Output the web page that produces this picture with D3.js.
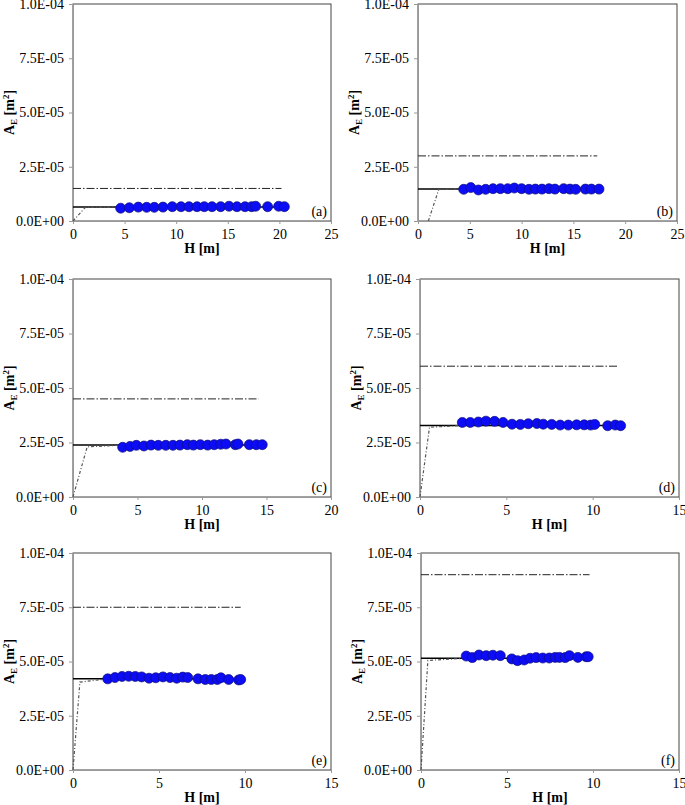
<!DOCTYPE html>
<html>
<head>
<meta charset="utf-8">
<script src="https://cdn.jsdelivr.net/npm/d3@7"></script>
<style>
  body { margin: 0; background: #fff; }
  svg text { font-family: "Liberation Serif", "DejaVu Serif", "Times New Roman", serif; }
</style>
</head>
<body>
<div id="plot"></div>
<script>
// measured points, one pair of arrays per panel
const hA = [4.62, 5.46, 6.33, 7.14, 7.88, 8.72, 9.62, 10.47, 11.24, 12.02, 12.72, 13.47, 14.31, 15.12, 15.89, 16.67, 17.31, 17.70, 18.86, 19.93, 20.48];
const aeA = [5.9e-6, 6.1e-6, 6.4e-6, 6.3e-6, 6.3e-6, 6.4e-6, 6.6e-6, 6.6e-6, 6.6e-6, 6.6e-6, 6.6e-6, 6.6e-6, 6.6e-6, 6.8e-6, 6.6e-6, 6.6e-6, 6.6e-6, 6.8e-6, 6.6e-6, 6.8e-6, 6.6e-6];

const hB = [4.41, 5.09, 5.83, 6.53, 7.24, 7.95, 8.66, 9.30, 10.0, 10.71, 11.33, 11.97, 12.64, 13.22, 14.06, 14.67, 15.22, 16.16, 16.74, 17.47];
const aeB = [1.46e-5, 1.54e-5, 1.43e-5, 1.46e-5, 1.49e-5, 1.49e-5, 1.49e-5, 1.52e-5, 1.49e-5, 1.46e-5, 1.47e-5, 1.47e-5, 1.49e-5, 1.47e-5, 1.49e-5, 1.47e-5, 1.46e-5, 1.47e-5, 1.47e-5, 1.47e-5];

const hC = [3.85, 4.42, 4.91, 5.50, 6.05, 6.61, 7.19, 7.75, 8.29, 8.86, 9.33, 9.87, 10.44, 10.95, 11.45, 11.86, 12.58, 12.79, 13.67, 14.21, 14.67];
const aeC = [2.28e-5, 2.32e-5, 2.37e-5, 2.34e-5, 2.38e-5, 2.37e-5, 2.37e-5, 2.37e-5, 2.38e-5, 2.40e-5, 2.38e-5, 2.40e-5, 2.38e-5, 2.40e-5, 2.42e-5, 2.43e-5, 2.40e-5, 2.43e-5, 2.40e-5, 2.40e-5, 2.40e-5];

const hD = [2.45, 2.91, 3.38, 3.82, 4.32, 4.81, 5.33, 5.81, 6.27, 6.77, 7.14, 7.63, 8.12, 8.59, 9.07, 9.51, 9.88, 10.12, 10.87, 11.31, 11.62];
const aeD = [3.42e-5, 3.42e-5, 3.44e-5, 3.48e-5, 3.47e-5, 3.42e-5, 3.34e-5, 3.33e-5, 3.36e-5, 3.37e-5, 3.34e-5, 3.33e-5, 3.30e-5, 3.30e-5, 3.31e-5, 3.31e-5, 3.30e-5, 3.33e-5, 3.27e-5, 3.30e-5, 3.27e-5];

const hE = [2.02, 2.44, 2.85, 3.24, 3.62, 3.99, 4.42, 4.81, 5.23, 5.64, 6.03, 6.38, 6.67, 7.27, 7.69, 8.04, 8.39, 8.60, 9.05, 9.63, 9.75];
const aeE = [4.20e-5, 4.26e-5, 4.31e-5, 4.32e-5, 4.31e-5, 4.29e-5, 4.23e-5, 4.25e-5, 4.29e-5, 4.26e-5, 4.23e-5, 4.28e-5, 4.26e-5, 4.20e-5, 4.17e-5, 4.17e-5, 4.17e-5, 4.25e-5, 4.17e-5, 4.15e-5, 4.17e-5];

const hF = [2.63, 2.98, 3.37, 3.79, 4.18, 4.61, 5.28, 5.61, 6.00, 6.34, 6.69, 7.08, 7.46, 7.80, 8.05, 8.38, 8.63, 9.12, 9.60, 9.72];
const aeF = [5.25e-5, 5.18e-5, 5.30e-5, 5.27e-5, 5.29e-5, 5.27e-5, 5.12e-5, 5.04e-5, 5.07e-5, 5.15e-5, 5.18e-5, 5.16e-5, 5.16e-5, 5.19e-5, 5.19e-5, 5.18e-5, 5.27e-5, 5.19e-5, 5.22e-5, 5.22e-5];

// reference lines per panel
const letters = ["a", "b", "c", "d", "e", "f"];
const xMax = [25, 25, 20, 15, 15, 15];
const level = [6.5e-6, 1.48e-5, 2.38e-5, 3.28e-5, 4.2e-5, 5.15e-5];      // solid line
const limit = [1.5e-5, 3.0e-5, 4.5e-5, 6.0e-5, 7.5e-5, 9.0e-5];          // dash-dot line
const limitEnd = [20.2, 17.3, 14.4, 11.5, 9.75, 9.8];
const rampStart = [0, 1.0, 0, 0, 0, 0];
const kneeH = [1.2, 2.0, 1.1, 0.55, 0.4, 0.4];
const kneeAe = [6.3e-6, 1.45e-5, 2.3e-5, 3.2e-5, 4.05e-5, 5.05e-5];
const yTicks = [0, 2.5e-5, 5.0e-5, 7.5e-5, 1.0e-4];

const hs = [hA, hB, hC, hD, hE, hF];
const aes = [aeA, aeB, aeC, aeD, aeE, aeF];

// plot boxes in page pixels
const boxes = [
  {l: 73, r: 331, t: 4, b: 221},
  {l: 418, r: 677, t: 4, b: 221},
  {l: 73, r: 331, t: 279, b: 497},
  {l: 420, r: 679, t: 279, b: 497},
  {l: 73, r: 331, t: 553, b: 770},
  {l: 421, r: 679, t: 553, b: 770}
];

const w = 685, h = 805;

const svg = d3.select("div#plot")
  .append("svg")
    .attr("width", w)
    .attr("height", h)
    .attr("font-family", "'Liberation Serif', serif");

svg.append("rect").attr("width", w).attr("height", h).attr("fill", "#fff");

// 2.5E-05 style labels
function sci(v) {
  if (Math.abs(v) < 1e-12) return "0.0E+00";
  const e = Math.floor(Math.log10(v) + 1e-9);
  const m = v / Math.pow(10, e);
  return m.toFixed(1) + "E" + (e < 0 ? "-" : "+") + String(Math.abs(e)).padStart(2, "0");
}

boxes.forEach((bx, i) => {
  const g = svg.append("g").attr("id", "panel-" + letters[i]);

  const xScale = d3.scaleLinear().domain([0, xMax[i]]).range([bx.l, bx.r]);
  const yScale = d3.scaleLinear().domain([0, 1e-4]).range([bx.b, bx.t]);

  // frame
  g.append("rect")
    .attr("x", bx.l).attr("y", bx.t)
    .attr("width", bx.r - bx.l).attr("height", bx.b - bx.t)
    .attr("fill", "none")
    .attr("stroke", "#444")
    .attr("stroke-width", 1);

  // x-axis
  const xAxis = d3.axisBottom(xScale)
    .tickValues(d3.range(0, xMax[i] + 0.1, 5))
    .tickSize(3)
    .tickPadding(5)
    .tickFormat(d3.format("d"));
  const gx = g.append("g")
    .attr("transform", `translate(0, ${bx.b})`)
    .call(xAxis);

  // y-axis
  const yAxis = d3.axisLeft(yScale)
    .tickValues(yTicks)
    .tickSize(4)
    .tickPadding(5)
    .tickFormat(sci);
  const gy = g.append("g")
    .attr("transform", `translate(${bx.l}, 0)`)
    .call(yAxis);

  [gx, gy].forEach(a => {
    a.attr("font-family", null);
    a.select(".domain").attr("stroke", "#999");
    a.selectAll(".tick line").attr("stroke", "#999");
    a.selectAll(".tick text")
      .attr("fill", "#000")
      .style("font-family", "'Liberation Serif', serif")
      .style("font-size", "14px");
  });

  // x-axis label
  g.append("text")
    .attr("x", (bx.l + bx.r) / 2)
    .attr("y", bx.b + 32)
    .attr("text-anchor", "middle")
    .style("font-size", "14px")
    .style("font-weight", "bold")
    .text("H [m]");

  // y-axis label
  const yl = g.append("text")
    .attr("transform", `translate(${bx.l - 59}, ${(bx.t + bx.b) / 2}) rotate(-90)`)
    .attr("text-anchor", "middle")
    .style("font-size", "14px")
    .style("font-weight", "bold");
  yl.append("tspan").text("A");
  yl.append("tspan").attr("dy", 3).style("font-size", "9px").text("E");
  yl.append("tspan").attr("dy", -3).text(" [m");
  yl.append("tspan").attr("dy", -5).style("font-size", "9px").text("2");
  yl.append("tspan").attr("dy", 5).text("]");

  const line = d3.line().x(d => xScale(d[0])).y(d => yScale(d[1]));
  const hh = hs[i], aa = aes[i];

  // dash-dot upper line
  g.append("path")
    .attr("d", line([[0, limit[i]], [limitEnd[i], limit[i]]]))
    .attr("fill", "none")
    .attr("stroke", "#222")
    .attr("stroke-width", 1)
    .attr("stroke-dasharray", "8,2,1.5,2");

  // solid level line
  g.append("path")
    .attr("d", line([[0, level[i]], [hh[hh.length - 1], level[i]]]))
    .attr("fill", "none")
    .attr("stroke", "#000")
    .attr("stroke-width", 1.5);

  // ramp
  g.append("path")
    .attr("d", line([[rampStart[i], 0], [kneeH[i], kneeAe[i]], [hh[0], level[i]]]))
    .attr("fill", "none")
    .attr("stroke", "#555")
    .attr("stroke-width", 1.2)
    .attr("stroke-dasharray", "3,2,1,2");

  // points
  g.selectAll("circle")
    .data(hh.map((v, k) => [v, aa[k]]))
    .enter()
    .append("circle")
      .attr("cx", d => xScale(d[0]))
      .attr("cy", d => yScale(d[1]))
      .attr("r", 5)
      .attr("fill", "#0c0cf5")
      .attr("stroke", "#10107a")
      .attr("stroke-width", 0.7);

  // panel letter
  g.append("text")
    .attr("x", bx.r - 4)
    .attr("y", bx.b - 5)
    .attr("text-anchor", "end")
    .style("font-size", "14px")
    .text("(" + letters[i] + ")");
});
</script>
</body>
</html>
